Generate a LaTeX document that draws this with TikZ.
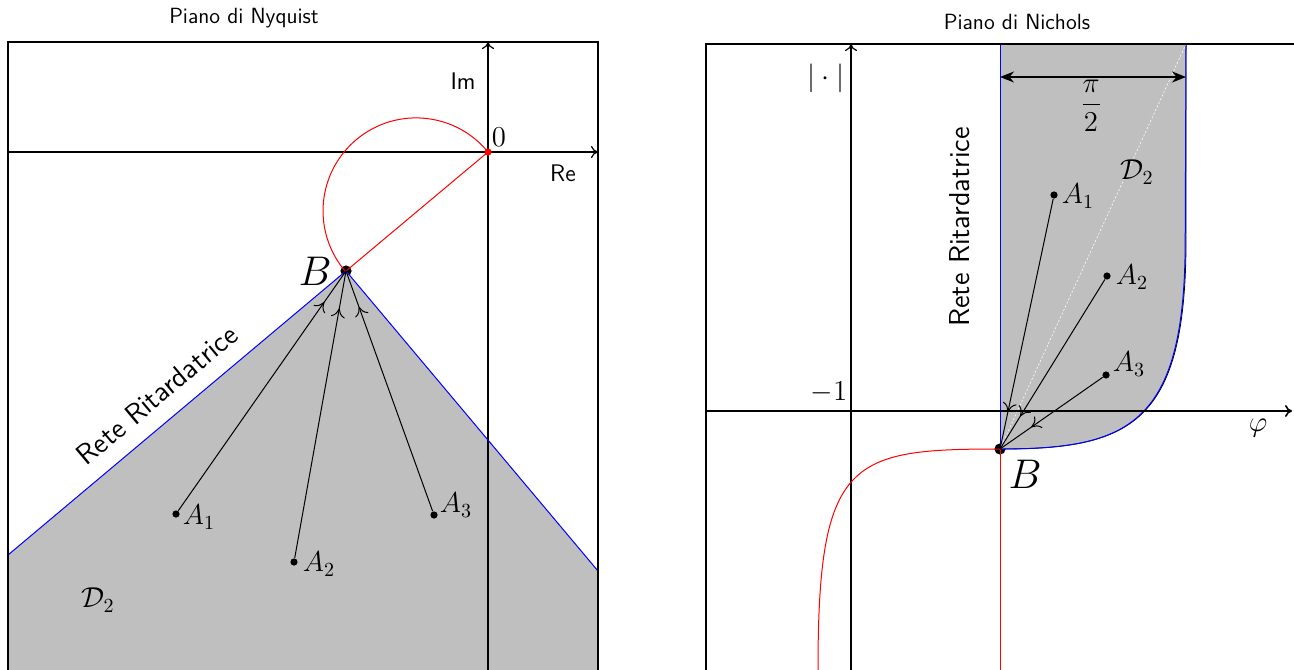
\documentclass[tikz,border=0pt]{standalone}
\usetikzlibrary{arrows.meta,decorations.markings}
\begin{document}
\begin{tikzpicture}[x=0.5pt,y=-0.5pt]
\tikzset{
  frame/.style={line width=1.3pt},
  axis/.style={line width=0.6pt,-{To[length=3.5pt,width=6pt]}},
  dot/.style={circle,fill,inner sep=0pt,minimum size=3.6pt},
  bigdot/.style={circle,fill,inner sep=0pt,minimum size=5.6pt},
  conn/.style={line width=0.5pt,postaction={decorate},
    decoration={markings,mark=at position -19pt with {\arrow[line width=0.5pt]{To[length=4.5pt,width=7pt]}}}},
  region/.style={fill=black!25},
  lag/.style={blue,line width=0.5pt},
  curve/.style={red,line width=0.5pt},
  lbl/.style={font=\Large},
  txt/.style={font=\sffamily\Large},
  ttl/.style={font=\sffamily\fontsize{11}{13}\selectfont},
  dim/.style={{Stealth[length=7pt,width=5.5pt]}-{Stealth[length=7pt,width=5.5pt]},line width=0.6pt}
}
\useasboundingbox (0,0) rectangle (1294,669);
\clip (0,0) rectangle (1294,669);

% ---------------- Nyquist ----------------
\node[ttl] (t1) at (244,18) {Piano di Nyquist};
\coordinate (O) at (488,152);
\coordinate (L1) at (8,555);
\coordinate (R1) at (598,571);
\node[bigdot] (B) at (346,271) {};
\fill[region] (L1) -- (B.center) -- (R1) -- (598,700) -- (8,700) -- cycle;
\draw[axis] (8,152) -- (598,152);
\draw[axis] (488,700) -- (488,42);
\draw[curve] (O) arc[start angle=39.3,end angle=220.6,radius=46.5pt];
\draw[curve] (O) -- (B.center);
\draw[lag] (L1) -- (B.center) -- (R1);
\fill[red] (O) circle (1.8pt);
\node[dot] (A1) at (176,514) {};
\node[dot] (A2) at (294,562) {};
\node[dot] (A3) at (434,515) {};
\draw[conn] (A1) -- (B.center);
\draw[conn] (A2) -- (B.center);
\draw[conn] (A3) -- (B.center);
\node[lbl] (a1) at (199,517) {$A_1$};
\node[lbl] (a2) at (319,564) {$A_2$};
\node[lbl] (a3) at (456,505) {$A_3$};
\node[lbl] (d1) at (98,600) {$\mathcal{D}_2$};
\node[font=\huge] (b1) at (315,271) {$B$};
\node[lbl] (z) at (499,137) {$0$};
\node[font=\sffamily\large] (im) at (463,81) {Im};
\node[font=\sffamily\large] (re) at (563,173) {Re};
\node[txt,rotate=40] (rr1) at (157,395) {Rete Ritardatrice};
\draw[frame] (8,700) |- (598,42) -- (598,700);

% ---------------- Nichols ----------------
\node[ttl] (t2) at (1017,22) {Piano di Nichols};
\node[bigdot] (NB) at (1000,449) {};
\coordinate (T1) at (1000,44);
\coordinate (T2) at (1186,44);
\fill[region] (T1) -- (NB.center) .. controls (1130,449) and (1186,425) .. (1186,240) -- (T2) -- cycle;
\draw[line width=0.4pt] (NB.center) .. controls (1130,449) and (1186,425) .. (1186,240) -- (T2);
\draw[lag,xshift=-0.4pt] (NB.center) .. controls (1130,449) and (1186,425) .. (1186,240) -- (T2);
\draw[lag] (NB.center) -- (T1);
\draw[white,line width=0.3pt,dash pattern=on 1pt off 1pt] (NB.center) -- (T2);
\draw[axis,line width=0.8pt] (706,411) -- (1292,411);
\draw[axis] (851,700) -- (851,44);
\draw[curve] (NB.center) .. controls (850,449) and (818,459) .. (818,669) -- (818,700);
\draw[curve] (NB.center) -- (1000,700);
\coordinate (D1) at (1000,77);
\coordinate (D2) at (1186,77);
\draw[dim] (D1) -- (D2);
\node[lbl] (pi) at (1091,106) {$\displaystyle\frac{\pi}{2}$};
\node[dot] (N1) at (1054,195) {};
\node[dot] (N2) at (1107,276) {};
\node[dot] (N3) at (1106,375) {};
\draw[conn] (N1) -- (NB.center);
\draw[conn] (N2) -- (NB.center);
\draw[conn] (N3) -- (NB.center);
\node[lbl] (n1) at (1078,196) {$A_1$};
\node[lbl] (n2) at (1132,277) {$A_2$};
\node[lbl] (n3) at (1129,364) {$A_3$};
\node[lbl] (d2) at (1137,172) {$\mathcal{D}_2$};
\node[font=\huge] (b2) at (1025,474) {$B$};
\node[lbl] (m1) at (829,392) {$-1$};
\node[lbl] (mod) at (826,78) {$|\cdot|$};
\node[lbl] (phi) at (1258,428) {$\varphi$};
\node[txt,rotate=90] (rr2) at (960,227) {Rete Ritardatrice};
\draw[frame] (706,700) |- (1400,44);
\end{tikzpicture}
\end{document}
